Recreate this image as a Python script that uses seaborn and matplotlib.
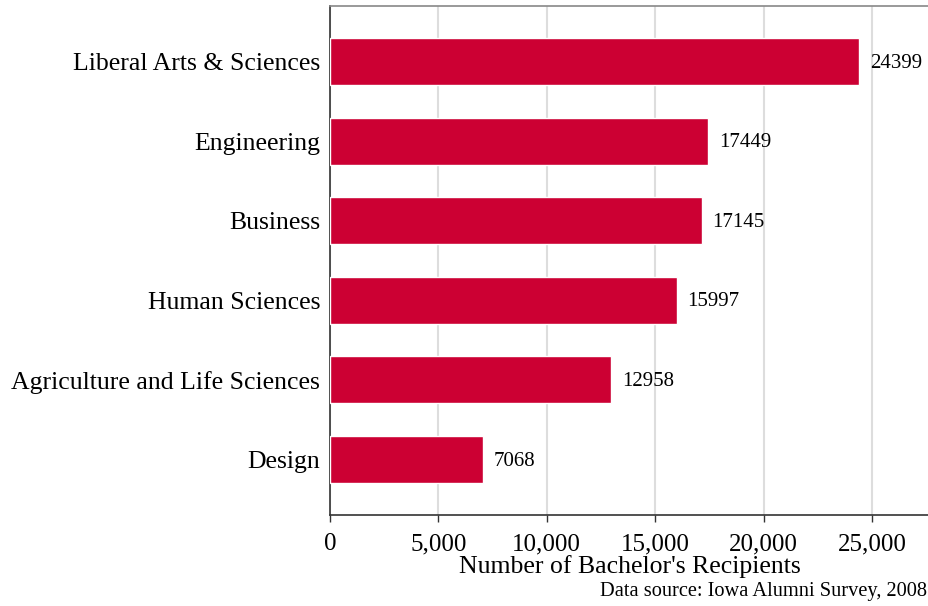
import numpy as np
import pandas as pd
import matplotlib
matplotlib.use("Agg")
import matplotlib.pyplot as plt
import seaborn as sns
from matplotlib.ticker import FuncFormatter

# Data
colleges = ["Liberal Arts & Sciences", "Engineering", "Business", "Human Sciences",
            "Agriculture and Life Sciences", "Design"]
recipients = [24399, 17449, 17145, 15997, 12958, 7068]

df = pd.DataFrame({"College": colleges, "Recipients": recipients})

sns.set_theme(style="white")
plt.rcParams['font.family'] = ['Liberation Serif', 'DejaVu Serif']
plt.rcParams['text.color'] = 'black'
plt.rcParams['axes.labelcolor'] = 'black'
plt.rcParams['xtick.color'] = 'black'
plt.rcParams['ytick.color'] = 'black'

fig = plt.figure(figsize=(9.29, 6.06), dpi=100)
ax = fig.add_axes([0.3552, 0.150, 0.6448, 0.840])

sns.barplot(data=df, y="College", x="Recipients", color="#CC0033", width=0.59,
            saturation=1, ax=ax, zorder=3)

# value labels
for i, v in enumerate(recipients):
    ax.text(v + 500, i + 0.02, str(v), va="center", ha="left", fontsize=15, zorder=4)

ax.set_xlim(0, 27630)
ax.set_ylim(5.7, -0.7)
ax.set_xticks(range(0, 30000, 5000))
ax.xaxis.set_major_formatter(FuncFormatter(lambda x, p: f"{int(x):,}"))
ax.xaxis.grid(True, color="#dddddd", linewidth=1.5, zorder=0)
ax.yaxis.grid(False)

ax.set_ylabel("")
ax.set_xlabel("Number of Bachelor's Recipients", fontsize=18.5)
ax.xaxis.set_label_coords(0.5, -0.079)
ax.tick_params(axis="y", length=0, labelsize=18.5, pad=7)
ax.tick_params(axis="x", length=5, width=1, labelsize=18, pad=8, bottom=True, color="#333333")

for s in ["left", "bottom"]:
    ax.spines[s].set_color("#333333")
    ax.spines[s].set_linewidth(1.2)
ax.spines["top"].set_color("#888888")
ax.spines["top"].set_linewidth(1.2)
ax.spines["right"].set_visible(False)

fig.text(0.998, 0.008, "Data source: Iowa Alumni Survey, 2008", ha="right", va="bottom", fontsize=14.7)

fig.savefig("out.png", dpi=100)
